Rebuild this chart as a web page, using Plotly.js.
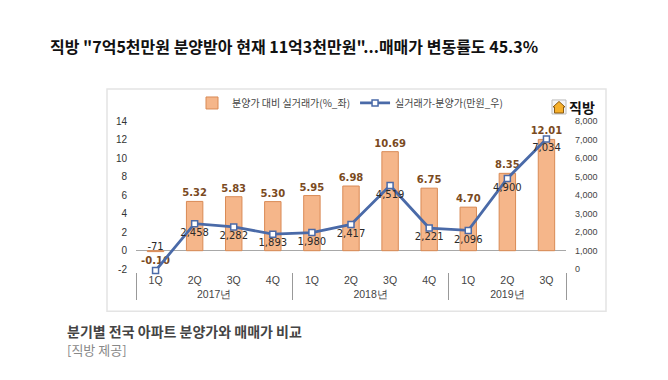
<!DOCTYPE html>
<html>
<head>
<meta charset="utf-8">
<script src="https://cdn.plot.ly/plotly-3.0.1.min.js"></script>
<style>html,body{margin:0;padding:0;background:#fff;}#chart{width:668px;height:380px;}</style>
</head>
<body>
<div id="chart"></div>
<script>
// ---- data ----
const years = ['2017년','2017년','2017년','2017년','2018년','2018년','2018년','2018년','2019년','2019년','2019년'];
const quarters = ['1Q','2Q','3Q','4Q','1Q','2Q','3Q','4Q','1Q','2Q','3Q'];
const ratePct = [-0.10, 5.32, 5.83, 5.30, 5.95, 6.98, 10.69, 6.75, 4.70, 8.35, 12.01];   // 분양가 대비 실거래가 (%, left)
const gapManwon = [-71, 2458, 2282, 1893, 1980, 2417, 4519, 2221, 2096, 4900, 7034];     // 실거래가-분양가 (만원, right)
const leftTicks = [-2, 0, 2, 4, 6, 8, 10, 12, 14];
const rightTicks = [0, 1000, 2000, 3000, 4000, 5000, 6000, 7000, 8000];
const barName = '분양가 대비 실거래가(%_좌)';
const lineName = '실거래가-분양가(만원_우)';
const titleText = '직방 "7억5천만원 분양받아 현재 11억3천만원"...매매가 변동률도 45.3%';
const captionText = '분기별 전국 아파트 분양가와 매매가 비교';
const sourceText = '[직방 제공]';

// axis ranges (left: -2..14 maps to right: 0..8000, small pad below so the -71 point stays visible)
const leftRange = [-2.3, 14];
const toRight = v => (v + 2) * 500;
const rightRange = leftRange.map(toRight);

// plot area geometry helpers (pixels -> paper)
const W = 668, H = 380, L = 136, R = 102, T = 121;
const pxPerUnit = 9.25;
const plotH = (leftRange[1] - leftRange[0]) * pxPerUnit;
const B = H - T - plotH;
const pw = W - L - R, ph = plotH;
const px = x => (x - L) / pw;
const py = y => (H - B - y) / ph;

const barTrace = {
  type: 'bar',
  name: barName,
  x: [years, quarters],
  y: ratePct,
  width: 0.42,
  marker: {color: '#F5B68A', line: {color: '#D98A55', width: 1}},
  text: ratePct.map(v => v.toFixed(2)),
  textposition: 'outside',
  constraintext: 'none',
  cliponaxis: false,
  textfont: {family: 'DejaVu Sans', size: 10, color: '#7A4A1E', weight: 700},
  yaxis: 'y'
};

const lineTrace = {
  type: 'scatter',
  mode: 'lines+markers+text',
  name: lineName,
  x: [years, quarters],
  y: gapManwon,
  yaxis: 'y2',
  line: {color: '#4A6AA8', width: 2.8},
  marker: {symbol: 'square', size: 6, color: '#ffffff', line: {color: '#4A6AA8', width: 1.5}},
  text: gapManwon.map(v => v < 0 ? v.toLocaleString('en-US') + '<br>&nbsp;' : v.toLocaleString('en-US')),
  textposition: gapManwon.map(v => v < 0 ? 'top center' : 'bottom center'),
  textfont: {family: 'DejaVu Sans', size: 10, color: '#2a2a2a'},
  cliponaxis: false
};

const layout = {
  width: W, height: H,
  margin: {l: L, r: R, t: T, b: B},
  paper_bgcolor: '#ffffff',
  plot_bgcolor: 'rgba(0,0,0,0)',
  showlegend: true,
  legend: {
    orientation: 'h', x: px(192), xanchor: 'left', y: py(103), yanchor: 'middle',
    font: {family: 'Noto Sans CJK KR', size: 10, color: '#444'},
    bgcolor: 'rgba(0,0,0,0)', traceorder: 'normal', itemwidth: 30
  },
  title: {
    text: '<b>' + titleText + '</b>',
    xref: 'container', yref: 'container',
    x: 50 / W, xanchor: 'left', y: 1 - 47 / H, yanchor: 'middle',
    font: {family: 'Noto Sans CJK KR', size: 16, color: '#111'}
  },
  xaxis: {
    type: 'multicategory',
    showline: false, ticks: 'outside', ticklen: 3, tickcolor: 'rgba(0,0,0,0)',
    showgrid: false, zeroline: false,
    showdividers: true, dividercolor: '#999', dividerwidth: 1,
    tickfont: {family: 'Liberation Sans', size: 10.5, color: '#444'},
    range: [-0.5, 10.5]
  },
  yaxis: {
    range: leftRange, tickvals: leftTicks, ticktext: leftTicks.map(String),
    showgrid: false, zeroline: true, zerolinecolor: '#a8a8a8', zerolinewidth: 1,
    showline: false, ticks: '', ticklabelstandoff: 8,
    tickfont: {family: 'Liberation Sans', size: 10, color: '#333'}
  },
  yaxis2: {
    overlaying: 'y', side: 'right', range: rightRange,
    tickvals: rightTicks, ticktext: rightTicks.map(v => v.toLocaleString('en-US')),
    showgrid: false, zeroline: false, showline: false, ticks: '', ticklabelstandoff: 8,
    tickfont: {family: 'Liberation Sans', size: 9, color: '#444'}
  },
  shapes: [
    {type: 'rect', xref: 'paper', yref: 'paper', x0: px(107), x1: px(606), y0: py(311), y1: py(89),
     line: {color: '#e4e4e4', width: 1.5}, fillcolor: 'rgba(0,0,0,0)', layer: 'below'},
    // logo icon
    {type: 'rect', xref: 'paper', yref: 'paper', x0: px(552), x1: px(566), y0: py(114), y1: py(100),
     line: {color: '#bbbbbb', width: 1}, fillcolor: '#f4f4f4', layer: 'above'},
    {type: 'path', xref: 'paper', yref: 'paper',
     path: `M ${px(553)} ${py(107)} L ${px(559)} ${py(101.5)} L ${px(565)} ${py(107)} L ${px(563.5)} ${py(107)} L ${px(563.5)} ${py(113)} L ${px(554.5)} ${py(113)} L ${px(554.5)} ${py(107)} Z`,
     line: {color: '#8a5a10', width: 1}, fillcolor: '#F6B02A', layer: 'above'}
  ],
  annotations: [
    {text: '<b>직방</b>', xref: 'paper', yref: 'paper', x: px(567), y: py(107), xanchor: 'left', yanchor: 'middle',
     showarrow: false, font: {family: 'Noto Sans CJK KR', size: 14, color: '#111'}},
    {text: '<b>' + captionText + '</b>', xref: 'paper', yref: 'paper', x: px(65), y: py(331), xanchor: 'left', yanchor: 'middle',
     showarrow: false, font: {family: 'Noto Sans CJK KR', size: 14, color: '#444'}},
    {text: sourceText, xref: 'paper', yref: 'paper', x: px(65), y: py(349), xanchor: 'left', yanchor: 'middle',
     showarrow: false, font: {family: 'Noto Sans CJK KR', size: 13, color: '#888'}}
  ]
};

Plotly.newPlot('chart', [barTrace, lineTrace], layout, {staticPlot: true, displayModeBar: false});
</script>
</body>
</html>
